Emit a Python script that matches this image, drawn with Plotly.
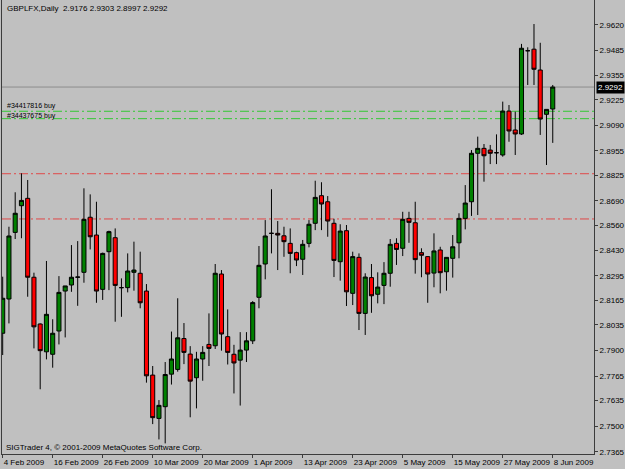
import plotly.graph_objects as go
import pandas as pd

# ---- data (daily bars) ----
dates = pd.bdate_range("2009-02-04", periods=89)

opens = [2.7991, 2.8172, 2.8524, 2.8665, 2.8704, 2.8287, 2.8040, 2.7893, 2.7880, 2.8003,
         2.8214, 2.8246, 2.8287, 2.8313, 2.8604, 2.8510, 2.8223, 2.8422, 2.8496, 2.8232,
         2.8232, 2.8313, 2.8308, 2.8214, 2.7770, 2.7541, 2.7603, 2.7775, 2.7800, 2.7963,
         2.7881, 2.7756, 2.7855, 2.7932, 2.7925, 2.8304, 2.7973, 2.7880, 2.7849, 2.7902,
         2.7951, 2.8181, 2.8357, 2.8519, 2.8519, 2.8506, 2.8466, 2.8417, 2.8382, 2.8466,
         2.8572, 2.8718, 2.8686, 2.8572, 2.8369, 2.8533, 2.8202, 2.8392, 2.8096, 2.8285,
         2.8197, 2.8244, 2.8308, 2.8466, 2.8440, 2.8598, 2.8575, 2.8417, 2.8396, 2.8309,
         2.8431, 2.8316, 2.8387, 2.8469, 2.8598, 2.8686, 2.8942, 2.8968, 2.8959, 2.8945,
         2.8933, 2.9165, 2.9065, 2.9044, 2.9484, 2.9492, 2.9382, 2.9148, 2.9176]
highs = [2.8290, 2.8554, 2.8736, 2.8836, 2.8801, 2.8311, 2.8043, 2.8373, 2.8065, 2.8293,
         2.8241, 2.8457, 2.8478, 2.8757, 2.8725, 2.8686, 2.8417, 2.8533, 2.8545, 2.8281,
         2.8413, 2.8475, 2.8422, 2.8251, 2.7818, 2.7638, 2.7839, 2.8000, 2.8176, 2.8045,
         2.7923, 2.7893, 2.7923, 2.8096, 2.8357, 2.8325, 2.8117, 2.7930, 2.7997, 2.7997,
         2.8161, 2.8452, 2.8589, 2.8752, 2.8584, 2.8554, 2.8545, 2.8422, 2.8484, 2.8589,
         2.8797, 2.8789, 2.8716, 2.8596, 2.8567, 2.8563, 2.8422, 2.8413, 2.8308, 2.8357,
         2.8313, 2.8367, 2.8489, 2.8493, 2.8633, 2.8633, 2.8686, 2.8440, 2.8398, 2.8519,
         2.8448, 2.8394, 2.8510, 2.8625, 2.8774, 2.8959, 2.9030, 2.8991, 2.8986, 2.9042,
         2.9215, 2.9197, 2.9162, 2.9520, 2.9502, 2.9625, 2.9526, 2.9174, 2.9303]
lows = [2.7876, 2.8043, 2.8489, 2.8493, 2.8184, 2.7911, 2.7695, 2.7853, 2.7809, 2.7932,
        2.7969, 2.8210, 2.8136, 2.8258, 2.8434, 2.8152, 2.8167, 2.8219, 2.8052, 2.8078,
        2.8207, 2.8216, 2.8123, 2.7730, 2.7511, 2.7430, 2.7409, 2.7720, 2.7788, 2.7828,
        2.7547, 2.7594, 2.7740, 2.7818, 2.7908, 2.7899, 2.7826, 2.7673, 2.7609, 2.7839,
        2.7934, 2.8123, 2.8276, 2.8413, 2.8325, 2.8395, 2.8308, 2.8346, 2.8299, 2.8445,
        2.8536, 2.8536, 2.8501, 2.8288, 2.8269, 2.8135, 2.8140, 2.8008, 2.7982, 2.8099,
        2.8149, 2.8145, 2.8237, 2.8352, 2.8399, 2.8469, 2.8306, 2.8287, 2.8152, 2.8234,
        2.8202, 2.8216, 2.8285, 2.8387, 2.8540, 2.8611, 2.8616, 2.8792, 2.8885, 2.8885,
        2.8924, 2.9003, 2.8933, 2.9039, 2.9303, 2.9303, 2.9039, 2.8880, 2.8997]
closes = [2.8176, 2.8505, 2.8625, 2.8693, 2.8287, 2.8025, 2.7899, 2.8091, 2.7991, 2.8207,
          2.8241, 2.8287, 2.8288, 2.8593, 2.8501, 2.8214, 2.8413, 2.8528, 2.8244, 2.8232,
          2.8320, 2.8325, 2.8152, 2.7766, 2.7545, 2.7610, 2.7773, 2.7855, 2.7967, 2.7890,
          2.7738, 2.7855, 2.7890, 2.7911, 2.8308, 2.7987, 2.7890, 2.7834, 2.7902, 2.7951,
          2.8153, 2.8350, 2.8505, 2.8519, 2.8510, 2.8475, 2.8413, 2.8378, 2.8461, 2.8567,
          2.8709, 2.8674, 2.8584, 2.8376, 2.8531, 2.8210, 2.8396, 2.8096, 2.8288, 2.8189,
          2.8235, 2.8308, 2.8461, 2.8434, 2.8593, 2.8577, 2.8380, 2.8403, 2.8304, 2.8426,
          2.8311, 2.8392, 2.8448, 2.8598, 2.8679, 2.8942, 2.8968, 2.8929, 2.8942, 2.8945,
          2.9165, 2.9060, 2.9044, 2.9497, 2.9484, 2.9386, 2.9123, 2.9174, 2.9292]

last_price = 2.9292
order_levels = [2.9164, 2.9125]
order_labels = ["#34417816 buy", "#34437675 buy"]
stop_levels = [2.8834, 2.8595]

y_tick_values = [2.9620, 2.9485, 2.9355, 2.9225, 2.9090, 2.8955, 2.8825, 2.8690, 2.8560,
                 2.8430, 2.8295, 2.8165, 2.8035, 2.7900, 2.7765, 2.7635, 2.7500, 2.7365]
x_label_every = 8

title_text = "GBPLFX,Daily  2.9176 2.9303 2.8997 2.9292"
copyright_text = "SIGTrader 4, © 2001-2009 MetaQuotes Software Corp."

# ---- figure ----
idx = list(range(len(dates)))
tick_idx = idx[::x_label_every]
tick_text = [f"{dates[i].day} {dates[i]:%b %Y}" for i in tick_idx]

BG = "#c0c0c0"
FONT = "Liberation Sans, Arial, sans-serif"
AX = "#3c3c3c"

fig = go.Figure()
fig.add_trace(go.Candlestick(
    x=idx, open=opens, high=highs, low=lows, close=closes,
    increasing=dict(fillcolor="#008000", line=dict(color="#000000", width=1)),
    decreasing=dict(fillcolor="#ff0000", line=dict(color="#000000", width=1)),
    whiskerwidth=0, showlegend=False, hoverinfo="skip",
))

shapes = []
shapes.append(dict(type="line", xref="paper", x0=0, x1=1, yref="y", y0=last_price, y1=last_price,
                   line=dict(color="#8c8c8c", width=1), layer="below"))
for lv in order_levels:
    shapes.append(dict(type="line", xref="paper", x0=0, x1=1, yref="y", y0=lv, y1=lv,
                       line=dict(color="#33c833", width=1, dash="9px,3px,2px,3px"), layer="below"))
for lv in stop_levels:
    shapes.append(dict(type="line", xref="paper", x0=0, x1=1, yref="y", y0=lv, y1=lv,
                       line=dict(color="#e04848", width=1, dash="9px,3px,2px,3px"), layer="below"))

annotations = []
annotations.append(dict(text=title_text, xref="paper", yref="paper", x=0, y=1, xanchor="left",
                        yanchor="top", xshift=3, yshift=-2, showarrow=False,
                        font=dict(family=FONT, size=8, color="#000")))
annotations.append(dict(text=copyright_text, xref="paper", yref="paper", x=0, y=0, xanchor="left",
                        yanchor="bottom", xshift=2, yshift=0, showarrow=False,
                        font=dict(family=FONT, size=8, color="#000")))
for k, (lv, lab) in enumerate(zip(order_levels, order_labels)):
    annotations.append(dict(text=lab, xref="paper", yref="y", x=0, y=lv, xanchor="left",
                            yanchor="bottom", xshift=4, yshift=(0 if k == 0 else -2),
                            showarrow=False, borderpad=0,
                            font=dict(family=FONT, size=7, color="#000")))
annotations.append(dict(text=f"{last_price:.4f}", xref="paper", yref="y", x=1, y=last_price,
                        xanchor="left", yanchor="middle", xshift=2, showarrow=False,
                        bgcolor="#000000", borderpad=1,
                        font=dict(family=FONT, size=8, color="#ffffff")))

fig.update_layout(
    width=625, height=469,
    margin=dict(l=2, r=31, t=0, b=15, autoexpand=False),
    paper_bgcolor=BG, plot_bgcolor=BG,
    boxgap=0.35, boxgroupgap=0,
    shapes=shapes, annotations=annotations,
    xaxis=dict(range=[-0.11, 94.6], rangeslider=dict(visible=False), showgrid=False,
               zeroline=False, tickmode="array", tickvals=tick_idx, ticktext=tick_text,
               tickangle=0, automargin=False,
               ticks="outside", ticklen=3, tickcolor=AX, showline=True, linecolor=AX,
               linewidth=1, ticklabelposition="outside right",
               tickfont=dict(family=FONT, size=8, color="#000")),
    yaxis=dict(range=[2.7353, 2.9752], side="right", showgrid=False, zeroline=False,
               tickmode="array", tickvals=y_tick_values, automargin=False,
               ticktext=[f"{v:.4f}" for v in y_tick_values],
               ticks="outside", ticklen=3, tickcolor=AX, showline=True, linecolor=AX,
               linewidth=1, mirror=True,
               tickfont=dict(family=FONT, size=8, color="#000")),
)

fig.write_html("out.html")
